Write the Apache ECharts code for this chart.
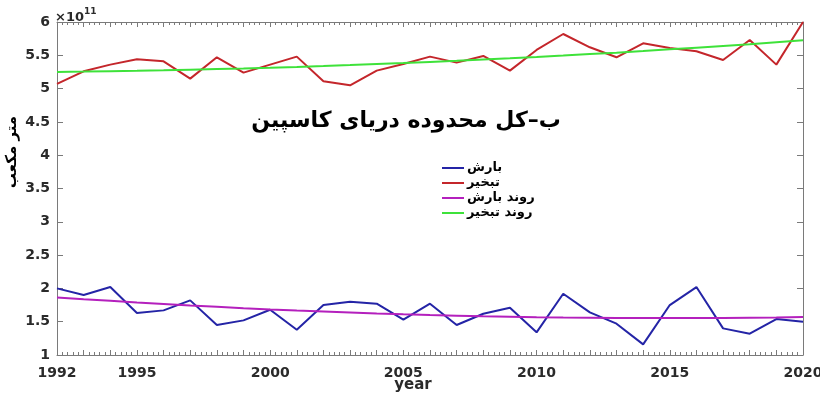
<!DOCTYPE html>
<html>
<head>
<meta charset="utf-8">
<script src="https://cdn.jsdelivr.net/npm/echarts@6/dist/echarts.min.js"></script>
<style>
  html, body { margin: 0; padding: 0; background: #fff; }
  #chart { width: 820px; height: 397px; }
</style>
</head>
<body>
<div id="chart"></div>
<script>
// Annual totals over the Caspian Sea basin, in units of 1e11
const years = [1992, 1993, 1994, 1995, 1996, 1997, 1998, 1999, 2000, 2001,
               2002, 2003, 2004, 2005, 2006, 2007, 2008, 2009, 2010, 2011,
               2012, 2013, 2014, 2015, 2016, 2017, 2018, 2019, 2020];

const precipitation = [2.00, 1.90, 2.02, 1.63, 1.67, 1.82, 1.45, 1.52, 1.68, 1.38,
                       1.75, 1.80, 1.77, 1.53, 1.77, 1.45, 1.62, 1.71, 1.34, 1.92,
                       1.64, 1.47, 1.16, 1.75, 2.02, 1.40, 1.32, 1.54, 1.50];

const evaporation = [5.07, 5.26, 5.36, 5.44, 5.41, 5.15, 5.47, 5.24, 5.36, 5.48,
                     5.11, 5.05, 5.27, 5.37, 5.48, 5.39, 5.49, 5.27, 5.58, 5.82,
                     5.62, 5.47, 5.68, 5.61, 5.56, 5.43, 5.73, 5.36, 6.00];

const precipitationTrend = [1.865, 1.838, 1.813, 1.788, 1.765, 1.743, 1.723, 1.703, 1.685, 1.668,
                            1.652, 1.637, 1.623, 1.611, 1.600, 1.590, 1.581, 1.574, 1.567, 1.562,
                            1.558, 1.555, 1.554, 1.554, 1.554, 1.556, 1.560, 1.564, 1.570];

const evaporationTrend = [5.250, 5.255, 5.261, 5.267, 5.275, 5.284, 5.293, 5.303, 5.314, 5.326,
                          5.339, 5.353, 5.368, 5.383, 5.400, 5.417, 5.436, 5.455, 5.475, 5.496,
                          5.518, 5.540, 5.564, 5.589, 5.614, 5.640, 5.667, 5.696, 5.725];

const yearLabels = [1992, 1995, 2000, 2005, 2010, 2015, 2020];
const seriesNames = ['بارش', 'تبخیر', 'روند بارش', 'روند تبخیر'];
const titleText = 'ب–کل محدوده دریای کاسپین';
const yAxisTitle = 'متر مکعب';
const xAxisTitle = 'year';

const pairs = vals => years.map((y, i) => [y, vals[i]]);

const axisGray = '#7a7a7a';
const labelFont = { fontFamily: 'DejaVu Sans', fontWeight: 'bold', fontSize: 14, color: '#2a2a2a' };

const xBase = {
  type: 'value', min: 1992, max: 2020, interval: 1,
  axisLine: { show: true, lineStyle: { color: axisGray, width: 1 } },
  axisTick: { show: true, inside: true, length: 5, lineStyle: { color: axisGray } },
  minorTick: { show: true, splitNumber: 5, length: 3, lineStyle: { color: axisGray } },
  splitLine: { show: false }, minorSplitLine: { show: false }
};
const yBase = {
  type: 'value', min: 1, max: 6, interval: 0.5,
  axisLine: { show: true, lineStyle: { color: axisGray, width: 1 } },
  axisTick: { show: true, inside: true, length: 6, lineStyle: { color: axisGray } },
  splitLine: { show: false }
};

const chart = echarts.init(document.getElementById('chart'), null, { renderer: 'canvas' });

const lineSeries = (name, vals, color, z) => ({
  name, type: 'line', data: pairs(vals), showSymbol: false, symbol: 'none',
  lineStyle: { color, width: 2 }, itemStyle: { color }, z, clip: false
});

chart.setOption({
  backgroundColor: '#ffffff',
  animation: false,
  grid: { left: 57, right: 17, top: 22, bottom: 42, containLabel: false, outerBoundsMode: 'none' },
  xAxis: [
    Object.assign({}, xBase, {
      position: 'bottom',
      axisLabel: Object.assign({}, labelFont, {
        margin: 11,
        formatter: v => (yearLabels.indexOf(v) >= 0 ? String(v) : '')
      }),
      name: xAxisTitle, nameLocation: 'middle', nameGap: 23, nameMoveOverlap: false,
      nameTextStyle: { fontFamily: 'DejaVu Sans', fontWeight: 'bold', fontSize: 15, color: '#2a2a2a', padding: [0, 34, 0, 0] }
    }),
    Object.assign({}, xBase, { position: 'top', axisLabel: { show: false } })
  ],
  yAxis: [
    Object.assign({}, yBase, {
      position: 'left',
      axisLabel: Object.assign({}, labelFont, { margin: 7 })
    }),
    Object.assign({}, yBase, { position: 'right', axisLabel: { show: false } })
  ],
  legend: {
    orient: 'vertical', left: 437, top: 156, itemGap: 1,
    icon: 'rect', itemWidth: 22, itemHeight: 2,
    data: seriesNames,
    textStyle: { fontFamily: 'DejaVu Sans', fontWeight: 'bold', fontSize: 13, lineHeight: 14, color: '#000', padding: [0, 0, 0, -2] }
  },
  series: [
    lineSeries(seriesNames[0], precipitation, '#2424a6', 3),
    lineSeries(seriesNames[1], evaporation, '#c4262b', 3),
    lineSeries(seriesNames[2], precipitationTrend, '#b420bd', 4),
    lineSeries(seriesNames[3], evaporationTrend, '#3ee23a', 4)
  ],
  graphic: [
    {
      type: 'text', left: 55, top: 7,
      style: {
        text: '{a|×10}{b|11}',
        rich: {
          a: { fontFamily: 'DejaVu Sans', fontWeight: 'bold', fontSize: 13, fill: '#2a2a2a', verticalAlign: 'bottom' },
          b: { fontFamily: 'DejaVu Sans', fontWeight: 'bold', fontSize: 9, fill: '#2a2a2a', verticalAlign: 'top', padding: [0, 0, 8, 0] }
        }
      }
    },
    {
      type: 'text', x: 406, y: 121,
      style: {
        text: titleText, align: 'center', verticalAlign: 'middle',
        fontFamily: 'DejaVu Sans', fontWeight: 'bold', fontSize: 22, fill: '#000'
      }
    },
    {
      type: 'text', x: 12, y: 152, rotation: Math.PI / 2,
      style: {
        text: yAxisTitle, align: 'center', verticalAlign: 'middle',
        fontFamily: 'DejaVu Sans', fontWeight: 'bold', fontSize: 15, fill: '#000'
      }
    }
  ]
});
</script>
</body>
</html>
